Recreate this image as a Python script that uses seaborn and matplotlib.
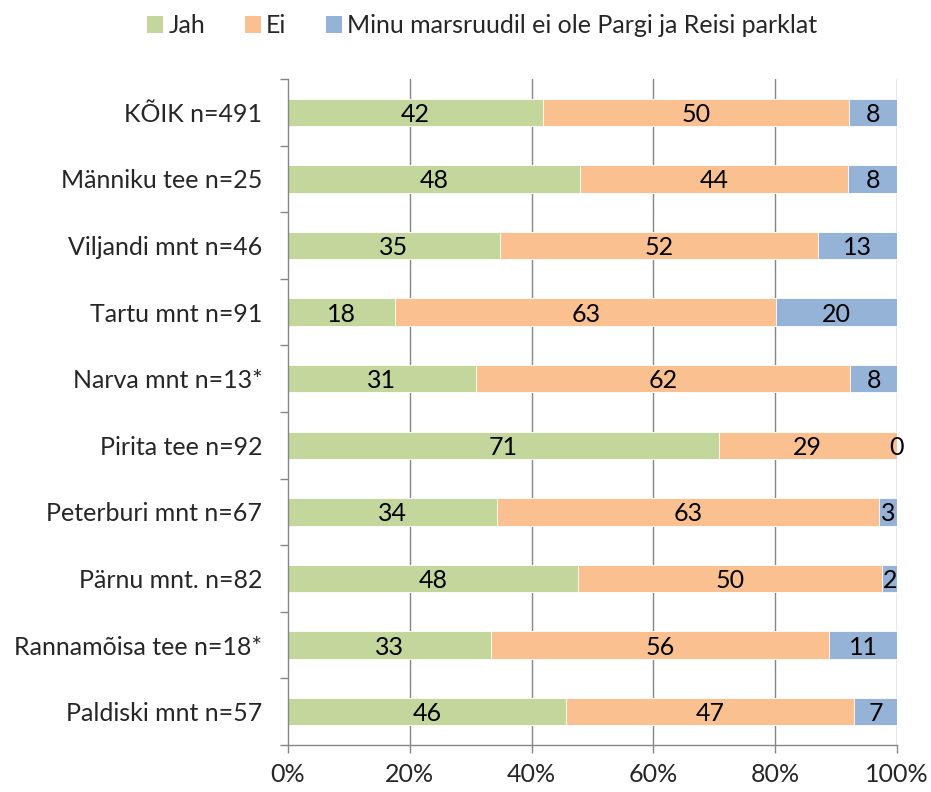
import matplotlib
matplotlib.use("Agg")
import matplotlib.pyplot as plt
import seaborn as sns
import pandas as pd
import numpy as np
from matplotlib.patches import Patch

categories = ["KÕIK n=491", "Männiku tee n=25", "Viljandi mnt n=46", "Tartu mnt n=91",
              "Narva mnt n=13*", "Pirita tee n=92", "Peterburi mnt n=67", "Pärnu mnt. n=82",
              "Rannamõisa tee n=18*", "Paldiski mnt n=57"]
jah = [41.8, 48.0, 34.8, 17.6, 30.8, 70.7, 34.3, 47.6, 33.3, 45.6]
ei = [50.4, 44.0, 52.2, 62.6, 61.5, 29.3, 62.7, 50.0, 55.6, 47.4]
minu = [7.8, 8.0, 13.0, 19.8, 7.7, 0.0, 3.0, 2.4, 11.1, 7.0]
jah_lbl = [42, 48, 35, 18, 31, 71, 34, 48, 33, 46]
ei_lbl = [50, 44, 52, 63, 62, 29, 63, 50, 56, 47]
minu_lbl = [8, 8, 13, 20, 8, 0, 3, 2, 11, 7]
series_names = ["Jah", "Ei", "Minu marsruudil ei ole Pargi ja Reisi parklat"]
colors = ["#C3D69B", "#FAC090", "#95B3D7"]
xticks = [0, 20, 40, 60, 80, 100]
xtick_labels = ["0%", "20%", "40%", "60%", "80%", "100%"]

sns.set_theme(style="white")
plt.rcParams["font.family"] = ["Lato", "DejaVu Sans"]

df = pd.DataFrame({"cat": categories, "jah": jah, "ei": ei, "minu": minu})
df["c1"] = df["jah"]
df["c2"] = df["jah"] + df["ei"]
df["c3"] = df["c2"] + df["minu"]

fig = plt.figure(figsize=(9.31, 7.92), dpi=100)
ax = fig.add_axes([288/931, 1-745/792, 609/931, 666/792])

ax.set_axisbelow(True)
for xv in xticks[1:]:
    ax.axvline(xv, color="#868686", lw=1.0, zorder=0)

bw = 0.41
for col, c in zip(["c3", "c2", "c1"], colors[::-1]):
    sns.barplot(data=df, x=col, y="cat", orient="h", color=c, width=bw,
                edgecolor="white", linewidth=0.6, ax=ax, saturation=1, zorder=2)

fs = 18
for i in range(len(categories)):
    starts = [0, jah[i], jah[i] + ei[i]]
    vals = [jah[i], ei[i], minu[i]]
    lbls = [jah_lbl[i], ei_lbl[i], minu_lbl[i]]
    for s, v, l in zip(starts, vals, lbls):
        ax.text(s + v/2, i + 0.03, str(l), ha="center", va="center", fontsize=fs,
                color="black", zorder=5)

ax.set_xlim(0, 100)
ax.set_ylim(len(categories) - 0.5, -0.5)
ax.set_xticks(xticks)
ax.set_xticklabels(xtick_labels, fontsize=fs)
ax.set_yticks(np.arange(len(categories)))
ax.set_yticklabels(categories, fontsize=fs)
ax.set_xlabel("")
ax.set_ylabel("")
ax.tick_params(axis="y", length=0, pad=18.5)
ax.tick_params(axis="x", length=6, width=1, color="#868686", direction="out", pad=7)
# category boundary ticks
ax.set_yticks(np.arange(len(categories) + 1) - 0.5, minor=True)
ax.tick_params(axis="y", which="minor", length=6, width=1, color="#868686", direction="out", left=True)
ax.tick_params(axis="x", bottom=True)

for sp in ["top", "right"]:
    ax.spines[sp].set_visible(False)
for sp in ["left", "bottom"]:
    ax.spines[sp].set_color("#868686")
    ax.spines[sp].set_linewidth(1.0)

handles = [Patch(facecolor=c, edgecolor="none") for c in colors]
fig.legend(handles, series_names, loc="center", bbox_to_anchor=(482.5/931, 1-25.5/792),
           ncol=3, frameon=False, fontsize=fs, handlelength=0.64, handleheight=0.68,
           handletextpad=0.2, columnspacing=1.6, borderpad=0.0)

fig.savefig("out.png", dpi=100)
